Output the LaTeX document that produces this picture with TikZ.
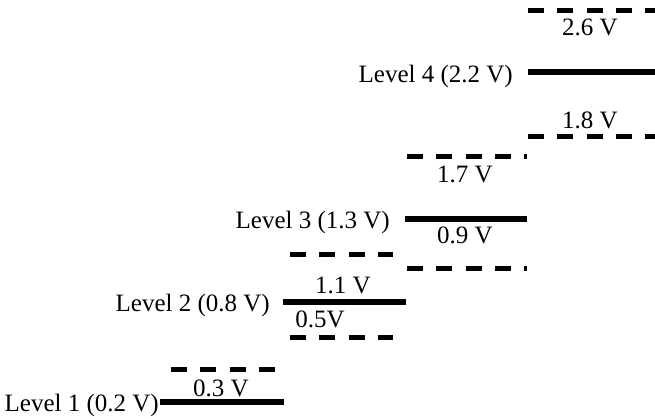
\documentclass[tikz,border=0pt]{standalone}
\usepackage{fontspec}
\setmainfont{Liberation Serif}
\begin{document}
\begin{tikzpicture}[x=1pt,y=-1pt,
  solidlvl/.style={line width=5.5pt},
  dashlvl/.style={line width=5pt, dash pattern=on 16pt off 13.3pt},
  lvllabel/.style={anchor=base east, inner sep=0pt, font=\fontsize{25}{29}\selectfont},
  vlabel/.style={anchor=base, inner sep=0pt, font=\fontsize{25}{29}\selectfont}]
\useasboundingbox (0,0) rectangle (655,418);
% Level 1
\coordinate (s1a) at (160,402); \coordinate (s1b) at (284,402);
\coordinate (d1a) at (171,369); \coordinate (d1b) at (277,369);
\draw[solidlvl] (s1a) -- (s1b);
\draw[dashlvl] (d1a) -- (d1b);
\node[lvllabel] (l1) at (159,411) {Level 1 (0.2 V)};
\node[vlabel] (v03) at (221,396) {0.3 V};
% Level 2
\coordinate (s2a) at (283,302); \coordinate (s2b) at (406,302);
\coordinate (d2a) at (290,254); \coordinate (d2b) at (393,254);
\coordinate (d2c) at (290,337); \coordinate (d2d) at (393,337);
\draw[solidlvl] (s2a) -- (s2b);
\draw[dashlvl] (d2a) -- (d2b);
\draw[dashlvl] (d2c) -- (d2d);
\node[lvllabel] (l2) at (270,311) {Level 2 (0.8 V)};
\node[vlabel] (v11) at (343,293) {1.1 V};
\node[vlabel] (v05) at (320,327) {0.5V};
% Level 3
\coordinate (s3a) at (405,219); \coordinate (s3b) at (527,219);
\coordinate (d3a) at (407,156); \coordinate (d3b) at (527,156);
\coordinate (d3c) at (407,268); \coordinate (d3d) at (527,268);
\draw[solidlvl] (s3a) -- (s3b);
\draw[dashlvl] (d3a) -- (d3b);
\draw[dashlvl] (d3c) -- (d3d);
\node[lvllabel] (l3) at (390,228) {Level 3 (1.3 V)};
\node[vlabel] (v17) at (465,182) {1.7 V};
\node[vlabel] (v09) at (465,243) {0.9 V};
% Level 4
\coordinate (s4a) at (528,72); \coordinate (s4b) at (655,72);
\coordinate (d4a) at (528,10); \coordinate (d4b) at (655,10);
\coordinate (d4c) at (528,136); \coordinate (d4d) at (655,136);
\draw[solidlvl] (s4a) -- (s4b);
\draw[dashlvl] (d4a) -- (d4b);
\draw[dashlvl] (d4c) -- (d4d);
\node[lvllabel] (l4) at (513,82) {Level 4 (2.2 V)};
\node[vlabel] (v26) at (590,35) {2.6 V};
\node[vlabel] (v18) at (590,128) {1.8 V};
\end{tikzpicture}
\end{document}
